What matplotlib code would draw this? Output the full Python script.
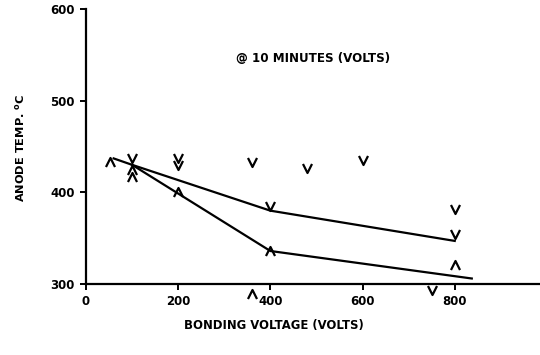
import numpy as np
import matplotlib
matplotlib.use("Agg")
import matplotlib.pyplot as plt
from matplotlib.path import Path

# lines drawn through the data
upper_x = [60, 100, 400, 800]
upper_y = [437, 430, 380, 347]
lower_x = [100, 400, 837]
lower_y = [430, 336, 306]

# hand-drawn chevron points
down_x = [100, 200, 200, 360, 480, 600, 400, 800, 800, 750]
down_y = [437, 437, 430, 433, 426, 435, 385, 382, 355, 294]
up_x = [52, 100, 100, 200, 400, 800, 360]
up_y = [433, 424, 417, 400, 336, 321, 289]

ticks_x = [0, 200, 400, 600, 800]
ticks_y = [300, 400, 500, 600]

vee = Path([(-1, 1), (0, -1), (1, 1)], [Path.MOVETO, Path.LINETO, Path.LINETO])
hat = Path([(-1, -1), (0, 1), (1, -1)], [Path.MOVETO, Path.LINETO, Path.LINETO])

fig = plt.figure(figsize=(5.4, 3.55), dpi=100)
ax = fig.add_axes([86 / 540, 1 - 284 / 355, 1 - 86 / 540, (284 - 9) / 355])

ax.plot(upper_x, upper_y, color="black", lw=1.6)
ax.plot(lower_x, lower_y, color="black", lw=1.6)
ax.plot(down_x, down_y, ls="none", marker=vee, ms=6.5, mec="black", mfc="none",
        mew=1.6, clip_on=False)
ax.plot(up_x, up_y, ls="none", marker=hat, ms=6.5, mec="black", mfc="none",
        mew=1.6, clip_on=False)

ax.set_xlim(0, 985)
ax.set_ylim(300, 600)
ax.set_xticks(ticks_x)
ax.set_yticks(ticks_y)
ax.spines["top"].set_visible(False)
ax.spines["right"].set_visible(False)
for s in ["left", "bottom"]:
    ax.spines[s].set_linewidth(1.6)
ax.tick_params(width=1.4, length=4, labelsize=8.5, pad=4)
for lab in ax.get_xticklabels() + ax.get_yticklabels():
    lab.set_fontweight("bold")

fig.text(313 / 540, 1 - 58 / 355, "@ 10 MINUTES (VOLTS)", ha="center", va="center",
         fontsize=8.6, fontweight="bold")
fig.text(274 / 540, 1 - 325 / 355, "BONDING VOLTAGE (VOLTS)", ha="center", va="center",
         fontsize=8.4, fontweight="bold")
fig.text(20 / 540, 1 - 148 / 355, "ANODE TEMP. $^\\mathbf{o}$C", ha="center", va="center",
         rotation=90, fontsize=8.2, fontweight="bold")

fig.savefig("out.png", dpi=100)
